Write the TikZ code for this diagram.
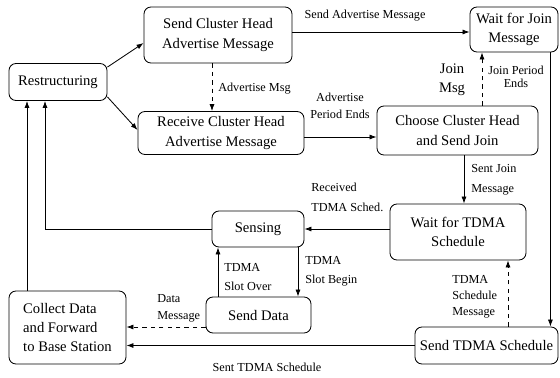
\documentclass[tikz,border=0pt]{standalone}
\usepackage{fontspec}
\setmainfont{Liberation Serif}
\usetikzlibrary{arrows.meta, positioning, calc}

\begin{document}
\begin{tikzpicture}[
  x=0.025cm, y=0.025cm,
  state/.style={draw, rounded corners=5pt, align=center, inner sep=2pt, line width=0.6pt, font=\fontsize{10.4}{14}\selectfont},
  lbl/.style={align=left, inner sep=0pt, font=\fontsize{8.7}{#1}\selectfont},
  lbl/.default=13pt,
  arr/.style={-{Latex[length=5pt,width=3.6pt]}, line width=0.6pt},
  msg/.style={arr, dashed}
]
  \useasboundingbox (0,0) rectangle (560,377);

  % states
  \node[state, minimum width=2.45cm, minimum height=0.925cm] (restr) at (58,295) {Restructuring};
  \node[state, minimum width=3.7cm, minimum height=1.4cm] (sendadv) at (218,342) {Send Cluster Head\\Advertise Message};
  \node[state, minimum width=4.15cm, minimum height=1.075cm] (recvadv) at (221,244) {Receive Cluster Head\\Advertise Message};
  \node[state, minimum width=2.2cm, minimum height=1.125cm] (waitjoin) at (514,347.5) {Wait for Join\\Message};
  \node[state, minimum width=4.025cm, minimum height=1.225cm] (choose) at (457.5,246.5) {Choose Cluster Head\\and Send Join};
  \node[state, minimum width=3.4cm, minimum height=1.4cm] (waittdma) at (458,145) {Wait for TDMA\\Schedule};
  \node[state, minimum width=2.3cm, minimum height=0.9cm] (sensing) at (258,148) {Sensing};
  \node[state, minimum width=2.625cm, minimum height=0.9cm] (senddata) at (258.5,62) {Send Data};
  \node[state, align=left, minimum width=2.925cm, minimum height=1.825cm, font=\fontsize{10.4}{13.3}\selectfont] (collect) at (67.5,49.5) {Collect Data\\and Forward\\to Base Station};
  \node[state, minimum width=3.575cm, minimum height=0.925cm] (sendtdma) at (486.5,31.5) {Send TDMA Schedule};

  % points where the vertical and horizontal lines leave the boxes
  \coordinate (advx) at ($(sendadv.south)+(-6,0)$);
  \coordinate (joinx) at ($(choose.north)+(24.5,0)$);
  \coordinate (sentx) at ($(choose.south)+(6.5,0)$);
  \coordinate (waitx) at ($(waitjoin.south east)+(-8,0)$);
  \coordinate (beginx) at ($(sensing.south)+(40,0)$);
  \coordinate (overx) at ($(senddata.north)+(-40.5,0)$);
  \coordinate (schedx) at ($(sendtdma.north)+(21.5,0)$);
  \coordinate (sensex) at ($(restr.south)+(-13,0)$);
  \coordinate (collx) at ($(restr.south)+(-31,0)$);
  \coordinate (advy) at ($(sendadv.east)+(0,3)$);
  \coordinate (periody) at ($(recvadv.east)+(0,-4)$);
  \coordinate (datay) at ($(senddata.west)+(0,-12)$);

  % transitions
  \draw[arr] ($(restr.north east)+(0,-4)$) -- ($(sendadv.west)+(0,-8)$);
  \draw[arr] ($(restr.south east)+(0,4)$) -- ($(recvadv.west)+(0,3)$);
  \draw[msg] (advx) -- (advx |- recvadv.north);
  \draw[arr] (advy) -- (advy -| waitjoin.west);
  \draw[arr] (periody) -- (periody -| choose.west);
  \draw[msg] (joinx) -- (joinx |- waitjoin.south);
  \draw[arr] (sentx) -- (sentx |- waittdma.north);
  \draw[arr] (waitx) -- (waitx |- sendtdma.north);
  \draw[arr] (waittdma.west |- sensing.east) -- (sensing.east);
  \draw[arr] (sensing.west) -| (sensex);
  \draw[arr] (collx |- collect.north) -- (collx);
  \draw[arr] (beginx) -- (beginx |- senddata.north);
  \draw[arr] (overx) -- (overx |- sensing.south);
  \draw[msg] (datay) -- (datay -| collect.east);
  \draw[arr] (sendtdma.west) -- (sendtdma.west -| collect.east);
  \draw[msg] (schedx) -- (schedx |- waittdma.south);

  % labels
  \node[lbl, anchor=west] (ladvmsg) at (218,288) {Advertise Msg};
  \node[lbl] (lsendadv) at (365,361) {Send Advertise Message};
  \node[lbl=12pt, align=center] (lperiod) at (340,271) {Advertise\\Period Ends};
  \node[lbl, align=center, font=\fontsize{10.4}{13.5}\selectfont] (ljoinmsg) at (452,297) {Join\\Msg};
  \node[lbl=9.5pt, align=center] (ljoinend) at (516,300) {Join Period\\Ends};
  \node[lbl=14pt, anchor=west] (lsentjoin) at (471,197) {Sent Join\\Message};
  \node[lbl=14pt, anchor=west] (lrecvsched) at (311,180) {Received\\TDMA Sched.};
  \node[lbl=13.5pt, anchor=west] (lslotbegin) at (305,105.5) {TDMA\\Slot Begin};
  \node[lbl=13.5pt, anchor=west] (lslotover) at (224,99.5) {TDMA\\Slot Over};
  \node[lbl=12pt, anchor=west] (ldatamsg) at (157,69) {Data\\Message};
  \node[lbl] (lsentsched) at (267,10) {Sent TDMA Schedule};
  \node[lbl=11.5pt, anchor=west] (lschedmsg) at (452,80) {TDMA\\Schedule\\Message};
\end{tikzpicture}
\end{document}
